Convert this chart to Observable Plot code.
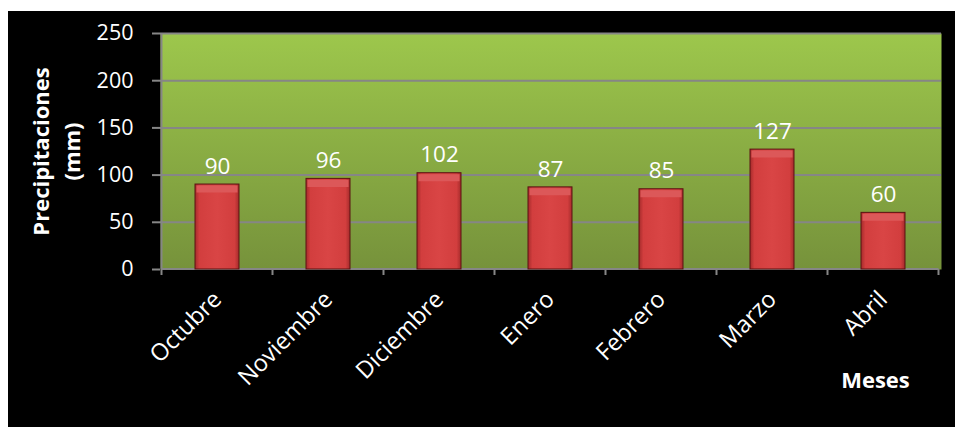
<!DOCTYPE html>
<html><head><meta charset="utf-8">
<script src="https://cdn.jsdelivr.net/npm/d3@7"></script>
<script src="https://cdn.jsdelivr.net/npm/@observablehq/plot@0.6"></script>
<style>
html,body{margin:0;padding:0;background:#fff;}
#chart{position:absolute;left:8px;top:11px;width:947px;height:416px;background:#000;overflow:hidden;}
</style></head><body><div id="chart"></div>
<script>
const months = ["Octubre","Noviembre","Diciembre","Enero","Febrero","Marzo","Abril"];
const precip = [90,96,102,87,85,127,60];
const yTicks = [0,50,100,150,200,250];
const yLabelLines = ["Precipitaciones","(mm)"];
const xTitle = "Meses";
const data = months.map((m,i)=>({month:m, value:precip[i]}));

const font = "'Open Sans', sans-serif";
const gray = "#868686";

function edgeTicks(index, scales) {
  const x = scales.x, y = scales.y;
  const step = x.step(), bw = x.bandwidth();
  const y0 = y(0), yTop = y(yTicks[yTicks.length-1]);
  const edges = months.map(m => x(m) + bw/2 - step/2);
  edges.push(x(months[months.length-1]) + bw/2 + step/2);
  const g = d3.create("svg:g").attr("stroke", gray).attr("stroke-width", 2);
  g.selectAll("line.t").data(edges).join("line").attr("class","t")
    .attr("x1", d=>d).attr("x2", d=>d).attr("y1", y0).attr("y2", y0+6);
  g.append("line").attr("x1", edges[0]).attr("x2", edges[edges.length-1]).attr("y1", y0).attr("y2", y0);
  g.append("line").attr("x1", edges[0]).attr("x2", edges[0]).attr("y1", yTop).attr("y2", y0);
  return g.node();
}

const svg = Plot.plot({
  width: 947, height: 416,
  marginLeft: 152, marginTop: 22, marginRight: 14, marginBottom: 158,
  style: {background: "transparent", color: "#fff", fontFamily: font, overflow: "visible"},
  x: {domain: months, paddingInner: 0.6, paddingOuter: 0.3, axis: null},
  y: {domain: [0, 250], axis: null},
  marks: [
    Plot.frame({fill: "url(#bgGrad)", stroke: null}),
    Plot.gridY(yTicks.slice(1), {stroke: gray, strokeOpacity: 1, strokeWidth: 2}),
    Plot.axisY({ticks: yTicks, tickSize: 8, tickPadding: 19, fontSize: 21.5, stroke: gray, strokeWidth: 2, label: null}),
    Plot.axisX({tickSize: 0, tickRotate: -45, tickPadding: 26, fontSize: 23.5, label: null}),
    edgeTicks,
    Plot.barY(data, {x: "month", y: "value", fill: "url(#barGrad)", stroke: "#5a1212", strokeWidth: 1}),
    Plot.tickY(data, {x: "month", y: "value", dy: 4.5, strokeWidth: 7, stroke: "#dc5859", insetLeft: 1.5, insetRight: 1.5}),
    Plot.text(data, {x: "month", y: "value", text: d => String(d.value), dy: -18, fill: "#fff", fontSize: 22.5}),
    Plot.text([xTitle], {frameAnchor: "bottom-right", textAnchor: "middle", dx: -66, dy: 118, fill: "#fff", fontSize: 22, fontWeight: "bold"}),
    Plot.text([yLabelLines.join("\n")], {frameAnchor: "left", textAnchor: "middle", rotate: -90, dx: -105.5, fill: "#fff", fontSize: 22, fontWeight: "bold", lineHeight: 1.4})
  ]
});
d3.select(svg).insert("defs", ":first-child").html(`
  <linearGradient id="bgGrad" x1="0" y1="0" x2="0" y2="1">
    <stop offset="0" stop-color="#9dc74c"/>
    <stop offset="1" stop-color="#76923b"/>
  </linearGradient>
  <linearGradient id="barGrad" x1="0" y1="0" x2="1" y2="0">
    <stop offset="0" stop-color="#a52b2b"/>
    <stop offset="0.1" stop-color="#d23e3e"/>
    <stop offset="0.5" stop-color="#d94545"/>
    <stop offset="0.9" stop-color="#d23e3e"/>
    <stop offset="1" stop-color="#a52b2b"/>
  </linearGradient>`);
document.getElementById("chart").appendChild(svg);
</script>
</body></html>
